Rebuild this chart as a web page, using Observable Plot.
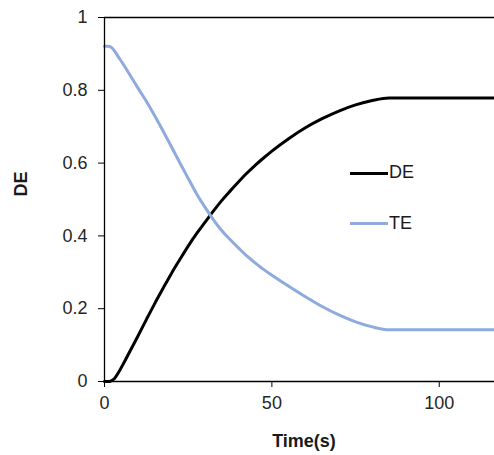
<!DOCTYPE html>
<html>
<head>
<meta charset="utf-8">
<script src="https://cdn.jsdelivr.net/npm/d3@7"></script>
<script src="https://cdn.jsdelivr.net/npm/@observablehq/plot@0.6"></script>
<style>
  html, body { margin: 0; padding: 0; background: #fff; }
  #wrap { position: relative; width: 494px; height: 455px; overflow: hidden; font-family: "Liberation Sans", Arial, sans-serif; }
  #wrap svg { position: absolute; left: 0; top: 0; }
  .lab { position: absolute; font-size: 18px; line-height: 18px; color: #1a1a1a; white-space: nowrap; }
  .b { font-weight: bold; }
  .sw { position: absolute; height: 3px; }
</style>
</head>
<body>
<div id="wrap"></div>
<script>
// ---- data ----
const time = [0, 1, 2, 3, 4, 6, 8, 10, 12.5, 15, 17.5, 20, 22.5, 25, 27.5, 30, 32.5, 35, 37.5, 40, 42.5, 45, 47.5, 50, 55, 60, 65, 70, 75, 80, 85, 90, 100, 110, 117];
const deValues = [0, 0, 0.002, 0.008, 0.022, 0.055, 0.09, 0.125, 0.17, 0.214, 0.256, 0.297, 0.335, 0.372, 0.406, 0.437, 0.468, 0.497, 0.523, 0.548, 0.572, 0.594, 0.614, 0.633, 0.667, 0.697, 0.722, 0.743, 0.76, 0.772, 0.779, 0.779, 0.779, 0.779, 0.779];
const teValues = [0.921, 0.921, 0.918, 0.908, 0.894, 0.866, 0.836, 0.806, 0.77, 0.73, 0.688, 0.645, 0.601, 0.558, 0.516, 0.479, 0.445, 0.415, 0.39, 0.367, 0.345, 0.326, 0.308, 0.292, 0.262, 0.233, 0.206, 0.183, 0.164, 0.150, 0.142, 0.142, 0.142, 0.142, 0.142];
const seriesNames = ["DE", "TE"];
const seriesColors = ["#000000", "#8FAADC"];
const xTicks = [0, 50, 100];
const xTickLabels = ["0", "50", "100"];
const yTicks = [0, 0.2, 0.4, 0.6, 0.8, 1];
const yTickLabels = ["0", "0.2", "0.4", "0.6", "0.8", "1"];
const xTitle = "Time(s)";
const yTitle = "DE";

const rows = [];
time.forEach((t, i) => {
  rows.push({t, v: deValues[i], s: seriesNames[0]});
  rows.push({t, v: teValues[i], s: seriesNames[1]});
});

const chart = Plot.plot({
  width: 494,
  height: 455,
  marginLeft: 104,
  marginRight: 0,
  marginTop: 17,
  marginBottom: 74,
  style: { fontFamily: "'Liberation Sans', Arial, sans-serif", fontSize: "18px", color: "#262626", background: "transparent" },
  x: { domain: [0, 116.5] },
  y: { domain: [0, 1] },
  color: { domain: seriesNames, range: seriesColors },
  marks: [
    Plot.axisX({ ticks: xTicks, tickFormat: (d) => xTickLabels[xTicks.indexOf(d)], tickSize: 6, tickPadding: 9, fontSize: 18, label: null, stroke: "#000" }),
    Plot.axisY({ ticks: yTicks, tickFormat: (d) => yTickLabels[yTicks.indexOf(d)], tickSize: 6, tickPadding: 11, fontSize: 18, label: null, stroke: "#000" }),
    Plot.ruleY([1], { stroke: "#000", strokeWidth: 1.3 }),
    Plot.line(rows, { x: "t", y: "v", z: "s", stroke: "s", strokeWidth: 3, curve: "monotone-x" }),
    Plot.ruleY([0], { stroke: "#000", strokeWidth: 1.3 }),
    Plot.ruleX([0], { stroke: "#000", strokeWidth: 1.3 })
  ]
});

const wrap = document.getElementById("wrap");
wrap.appendChild(chart);

function addLabel(text, cls, css) {
  const d = document.createElement("div");
  d.className = "lab " + cls;
  d.textContent = text;
  Object.assign(d.style, css);
  wrap.appendChild(d);
  return d;
}
// axis titles
addLabel(yTitle, "b", { left: "21px", top: "184px", transform: "translate(-50%,-50%) rotate(-90deg)" });
addLabel(xTitle, "b", { left: "304px", top: "432px", transform: "translateX(-50%)" });

// legend
const legendTops = [163, 214];
const legendLineY = [172, 222];
seriesNames.forEach((name, i) => {
  const sw = document.createElement("div");
  sw.className = "sw";
  Object.assign(sw.style, { left: "350px", top: legendLineY[i] + "px", width: "38px", background: seriesColors[i] });
  wrap.appendChild(sw);
  addLabel(name, "", { left: "389px", top: legendTops[i] + "px" });
});
</script>
</body>
</html>
